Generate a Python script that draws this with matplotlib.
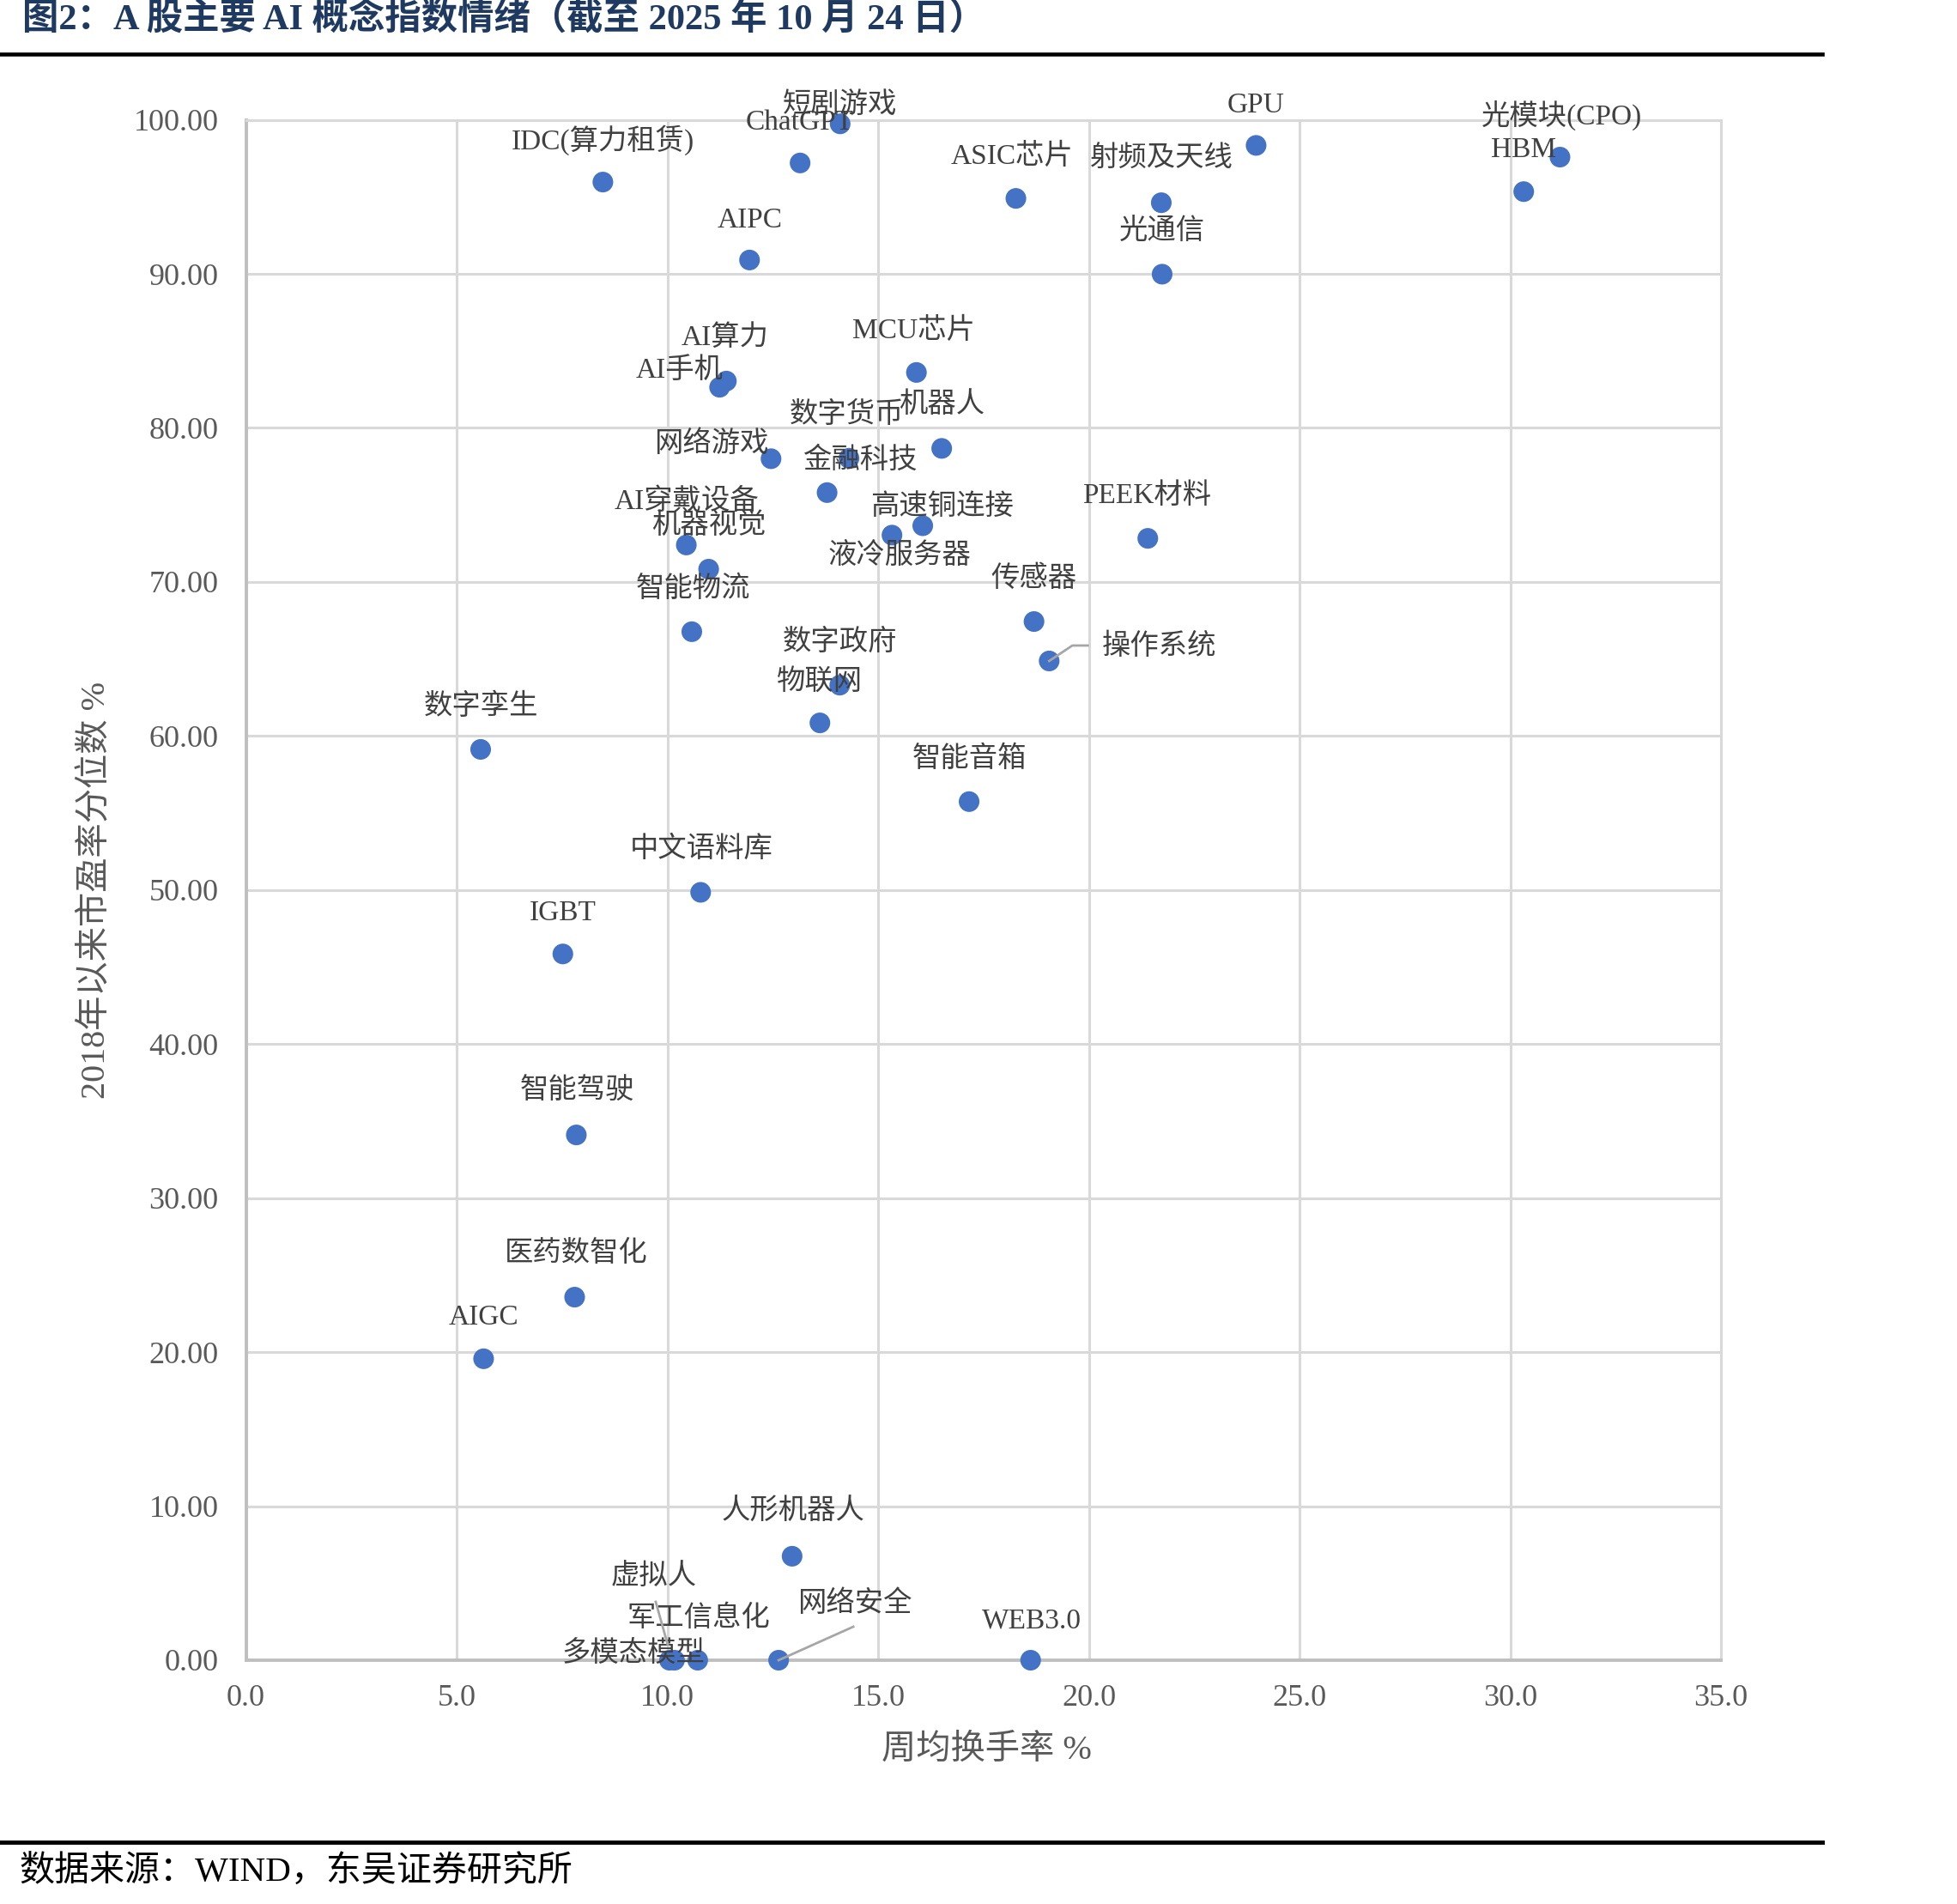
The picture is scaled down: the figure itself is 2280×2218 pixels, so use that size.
import matplotlib
matplotlib.use("Agg")
import matplotlib.pyplot as plt
from matplotlib.lines import Line2D
from matplotlib.transforms import IdentityTransform

plt.rcParams['font.family'] = ['Liberation Serif', 'Noto Sans CJK SC', 'DejaVu Sans']

# ---------------- data ----------------
names = ['IDC(算力租赁)', 'ChatGPT', '短剧游戏', 'AIPC', 'ASIC芯片', '射频及天线', 'GPU',
         '光通信', '光模块(CPO)', 'HBM', 'AI算力', 'AI手机', 'MCU芯片', '机器人', '数字货币',
         '网络游戏', '金融科技', '高速铜连接', '液冷服务器', 'AI穿戴设备', '机器视觉', '智能物流',
         '传感器', '操作系统', '数字政府', '物联网', 'PEEK材料', '数字孪生', '智能音箱',
         '中文语料库', 'IGBT', '智能驾驶', '医药数智化', 'AIGC', '人形机器人', '虚拟人',
         '军工信息化', '多模态模型', '网络安全', 'WEB3.0']
turnover = [8.47, 13.15, 14.10, 11.95, 18.27, 21.72, 23.97,
            21.74, 31.18, 30.32, 11.40, 11.24, 15.91, 16.51, 14.31,
            12.46, 13.79, 16.06, 15.33, 10.45, 10.98, 10.58,
            18.70, 19.06, 14.09, 13.62, 21.40, 5.57, 17.16,
            10.79, 7.52, 7.84, 7.80, 5.64, 12.96, 10.05,
            10.72, 10.17, 12.64, 18.62]
pe_pct = [95.96, 97.20, 99.74, 90.90, 94.90, 94.62, 98.34,
          89.98, 97.58, 95.34, 83.04, 82.64, 83.60, 78.67, 78.03,
          78.00, 75.80, 73.65, 73.04, 72.40, 70.83, 66.77,
          67.43, 64.87, 63.30, 60.85, 72.83, 59.13, 55.74,
          49.85, 45.85, 34.10, 23.57, 19.57, 6.75, 0.00,
          0.00, 0.00, 0.00, 0.00]
x_ticks = [0, 5, 10, 15, 20, 25, 30, 35]
y_ticks = [0, 10, 20, 30, 40, 50, 60, 70, 80, 90, 100]

title = '图2：A 股主要 AI 概念指数情绪（截至 2025 年 10 月 24 日）'
xlabel = '周均换手率 %'
ylabel = '2018年以来市盈率分位数 %'
source = '数据来源：WIND，东吴证券研究所'

# label offsets (pixels, y downward) – layout only
label_off = {
    'IDC(算力租赁)': (0, -49), 'ChatGPT': (-1, -47), '短剧游戏': (0, -22), 'AIPC': (0, -46),
    'ASIC芯片': (-4, -49), '射频及天线': (0, -52), 'GPU': (0, -47), '光通信': (0, -50),
    '光模块(CPO)': (2, -49), 'HBM': (0, -48), 'AI算力': (-2, -50), 'AI手机': (-47, -20),
    'MCU芯片': (-3, -49), '机器人': (0, -51), '数字货币': (-3, -50), '网络游戏': (-70, -17),
    '金融科技': (38, -38), '高速铜连接': (22, -22), '液冷服务器': (9, 24), 'AI穿戴设备': (0, -51),
    '机器视觉': (0, -51), '智能物流': (1, -50), '传感器': (0, -50), '操作系统': (128, -17),
    '数字政府': (0, -50), '物联网': (-1, -48), 'PEEK材料': (-1, -50), '数字孪生': (0, -50),
    '智能音箱': (0, -50), '中文语料库': (1, -50), 'IGBT': (0, -48), '智能驾驶': (1, -51),
    '医药数智化': (2, -51), 'AIGC': (0, -48), '人形机器人': (1, -52), '虚拟人': (-18, -97),
    '军工信息化': (1, -49), '多模态模型': (-48, -8), '网络安全': (89, -66), 'WEB3.0': (1, -46),
}
leaders = {
    '虚拟人': [(-16, -68), (-2, -18)],
    '网络安全': [(0, 0), (87, -39)],
    '操作系统': [(0, 0), (27, -18), (45, -18)],
}

W, H = 2280, 2218
fig = plt.figure(figsize=(W / 100, H / 100), dpi=100)
x0, x1, y0, y1 = 286.5, 2005, 139.6, 1934
ax = fig.add_axes([x0 / W, 1 - y1 / H, (x1 - x0) / W, (y1 - y0) / H])
ax.set_xlim(0, 35)
ax.set_ylim(0, 100)
ax.set_xticks(x_ticks)
ax.set_yticks(y_ticks)
ax.set_xticklabels([f'{v:.1f}' for v in x_ticks])
ax.set_yticklabels([f'{v:.2f}' for v in y_ticks])
ax.tick_params(length=0, labelsize=26, labelcolor='#595959')
ax.tick_params(axis='x', pad=20)
ax.tick_params(axis='y', pad=23)
ax.grid(True, color='#D9D9D9', lw=2.2, zorder=0)
ax.set_axisbelow(True)
for s in ['top', 'right']:
    ax.spines[s].set_color('#D9D9D9')
    ax.spines[s].set_linewidth(2.2)
for s in ['left', 'bottom']:
    ax.spines[s].set_color('#BFBFBF')
    ax.spines[s].set_linewidth(2.8)

ax.scatter(turnover, pe_pct, s=300, color='#4472C4', edgecolors='none', zorder=3, clip_on=False)

# leader lines
fig.canvas.draw()
for n, offs in leaders.items():
    i = names.index(n)
    X, Y = ax.transData.transform((turnover[i], pe_pct[i]))
    xs = [X + dx for dx, dy in offs]
    ys = [Y - dy for dx, dy in offs]
    fig.add_artist(Line2D(xs, ys, transform=IdentityTransform(), color='#A6A6A6', lw=2.0, zorder=4))

for n, xv, yv in zip(names, turnover, pe_pct):
    dx, dy = label_off[n]
    ax.annotate(n, (xv, yv), xytext=(dx, -dy), textcoords='offset pixels',
                ha='center', va='center', fontsize=24, color='#404040', zorder=5,
                annotation_clip=False)

ax.set_xlabel(xlabel, fontsize=29, color='#595959')
ax.set_ylabel(ylabel, fontsize=29, color='#595959')
ax.xaxis.set_label_coords(0.502, -0.0585)
ax.xaxis.label.set_va('center')
ax.yaxis.set_label_coords(-0.1015, 0.5)
ax.yaxis.label.set_va('center')

# title, rules, source
fig.text(26 / W, 1 - 23 / H, title, ha='left', va='center', fontsize=30.5,
         fontweight='bold', color='#1F3A60')
fig.add_artist(Line2D([0, 2123 / W], [1 - 63 / H] * 2, color='black', lw=3.3))
fig.add_artist(Line2D([0, 2123 / W], [1 - 2146 / H] * 2, color='black', lw=3.5))
fig.text(22 / W, 1 - 2181 / H, source, ha='left', va='center', fontsize=29.5, color='black')

fig.savefig('out.png', dpi=100)
